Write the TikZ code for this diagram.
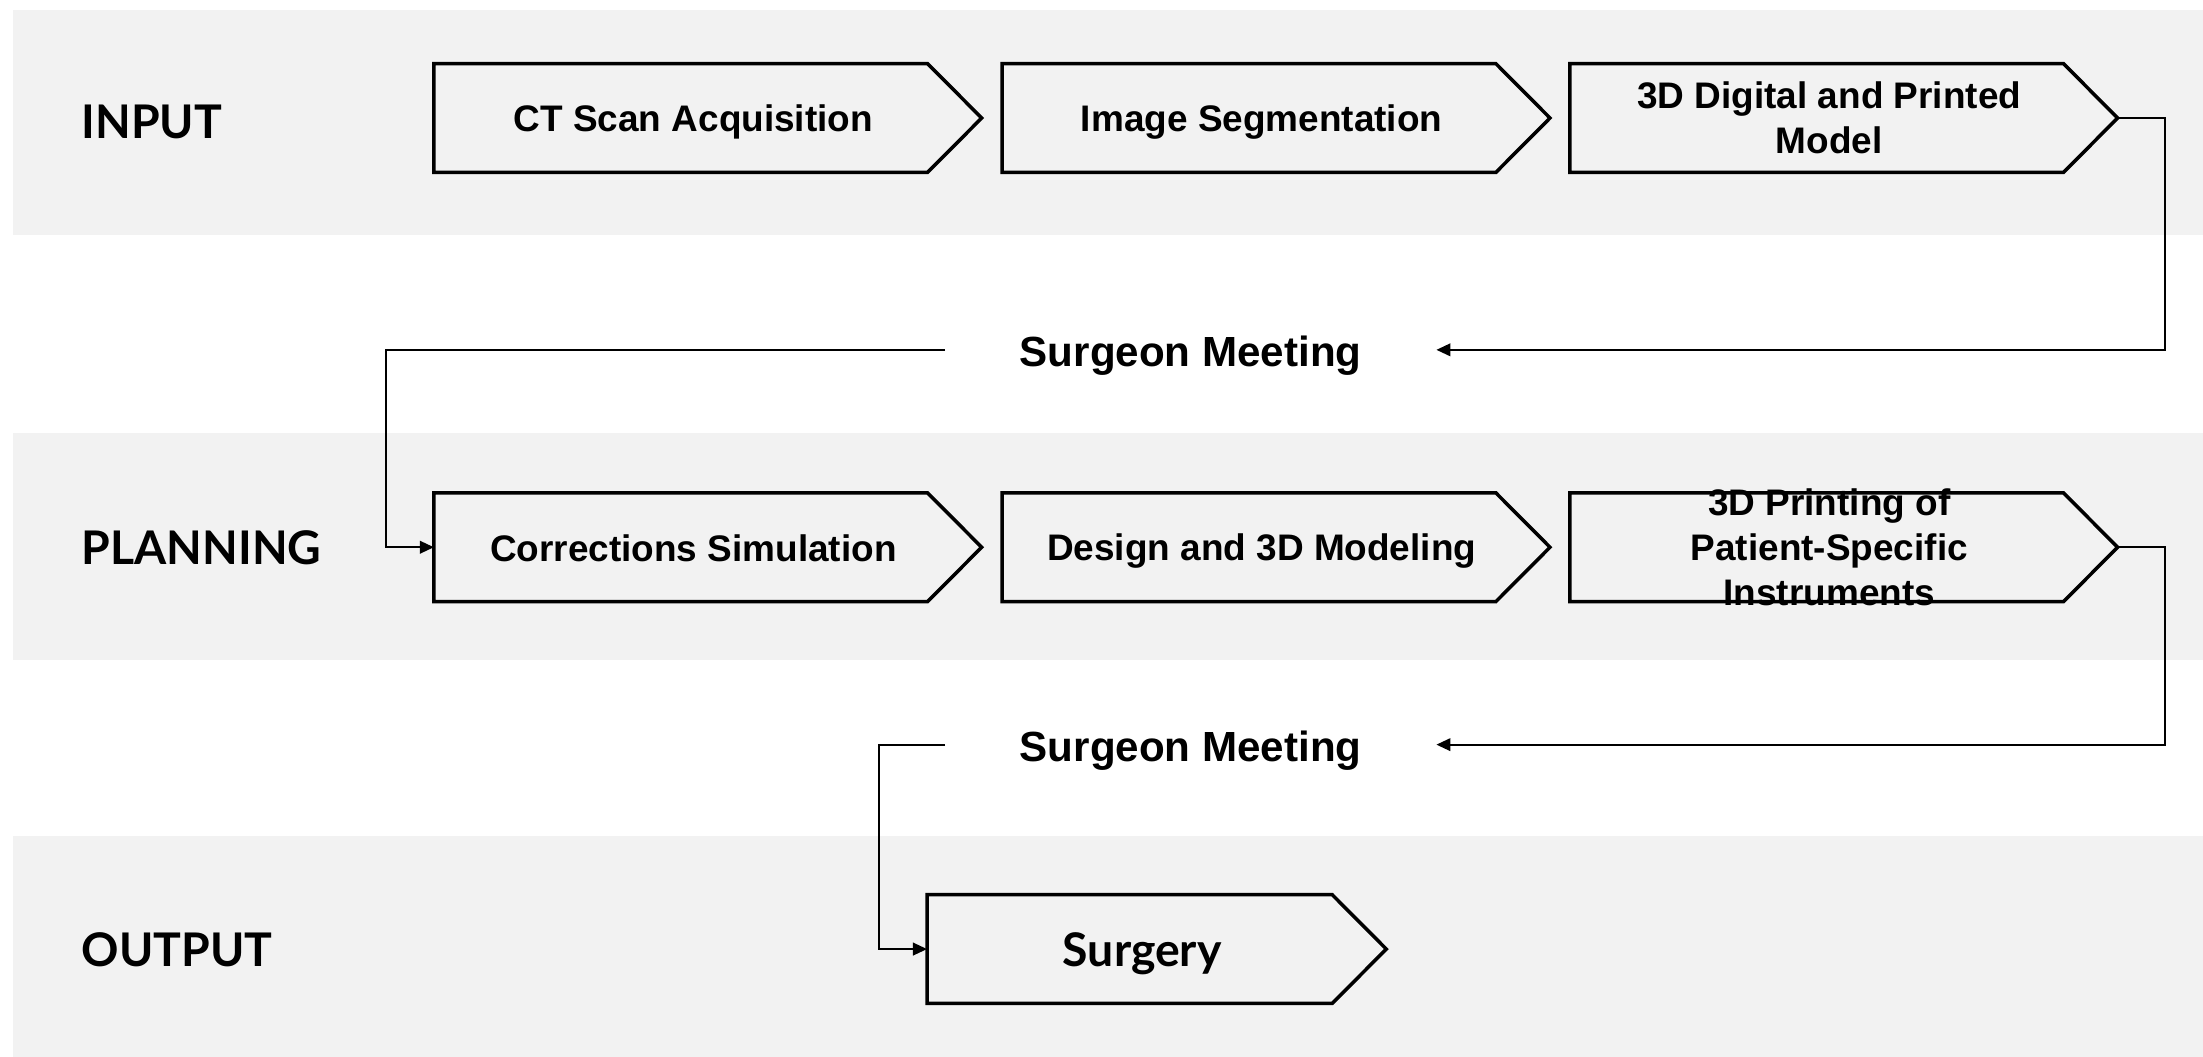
\documentclass[tikz,border=0pt]{standalone}
\usepackage{fontspec}
\setmainfont{Liberation Sans}
\newfontfamily\gillfont{Lato}
\usetikzlibrary{arrows.meta}
\definecolor{band}{HTML}{F2F2F2}
\begin{document}
\begin{tikzpicture}[x=1pt,y=-1pt,
  stage/.style={minimum width=351pt,minimum height=77pt,inner sep=0pt,draw=none},
  chev/.style={draw=black,line width=2.5pt,fill=band,line join=miter},
  boxtext/.style={font=\fontsize{26.3}{32}\selectfont\bfseries,align=center,inner sep=0pt},
  phase/.style={font=\gillfont\fontsize{33}{38}\selectfont\bfseries,inner sep=0pt,anchor=west},
  meet/.style={font=\fontsize{30}{36}\selectfont\bfseries,inner xsep=53pt,inner ysep=0pt,text height=25pt,text depth=1pt},
  conn/.style={draw=black,line width=1.4pt,-{Triangle[length=10pt,width=9pt]}}
]
\useasboundingbox (0,0) rectangle (1568,752);
% bands
\fill[band] (9,7) rectangle (1568,167);
\fill[band] (9,308) rectangle (1568,470);
\fill[band] (9,595) rectangle (1568,752);

% phase labels
\node[phase] (pin) at (58,87) {INPUT};
\node[phase] (pplan) at (58,390) {PLANNING};
\node[phase] (pout) at (58,676) {OUTPUT};

% stage nodes (rectangle part of each chevron)
\node[stage] (b1) at (484.5,84) {};
\node[stage] (b2) at (889,84) {};
\node[stage] (b3) at (1293,84) {};
\node[stage] (b4) at (484.5,389.5) {};
\node[stage] (b5) at (889,389.5) {};
\node[stage] (b6) at (1293,389.5) {};
\node[stage,minimum width=288pt] (b7) at (804,675.5) {};

\foreach \n in {b1,b2,b3,b4,b5,b6,b7}{
  \draw[chev] (\n.north west) -- (\n.north east) -- ([xshift=38.5pt]\n.east) -- (\n.south east) -- (\n.south west) -- cycle;
  \coordinate (\n tip) at ([xshift=38.5pt]\n.east);
}

% texts
\node[boxtext] (t1) at ([xshift=9pt,yshift=-3pt]b1.center) {CT Scan Acquisition};
\node[boxtext] (t2) at ([xshift=9pt,yshift=-3pt]b2.center) {Image Segmentation};
\node[boxtext] (t3) at ([xshift=9pt]b3.center) {3D Digital and Printed\\Model};
\node[boxtext] (t4) at ([xshift=9pt,yshift=-1pt]b4.center) {Corrections Simulation};
\node[boxtext] (t5) at ([xshift=9pt,yshift=-3pt]b5.center) {Design and 3D Modeling};
\node[boxtext] (t6) at ([xshift=9pt]b6.center) {3D Printing of\\Patient-Specific\\Instruments};
\node[phase,anchor=center] (t7) at ([xshift=9pt,yshift=-3pt]b7.center) {Surgery};

% surgeon meetings
\node[meet] (sm1) at (847.5,249) {Surgeon Meeting};
\node[meet] (sm2) at (847.5,530) {Surgeon Meeting};

% connectors
\draw[conn] (b3tip) -- ([xshift=34pt]b3tip) |- (sm1.east);
\draw[conn] (sm1.west) -| ([xshift=-34pt]b4.west) -- (b4.west);
\draw[conn] (b6tip) -- ([xshift=34pt]b6tip) |- (sm2.east);
\draw[conn] (sm2.west) -| ([xshift=-34pt]b7.west) -- (b7.west);
\end{tikzpicture}
\end{document}
